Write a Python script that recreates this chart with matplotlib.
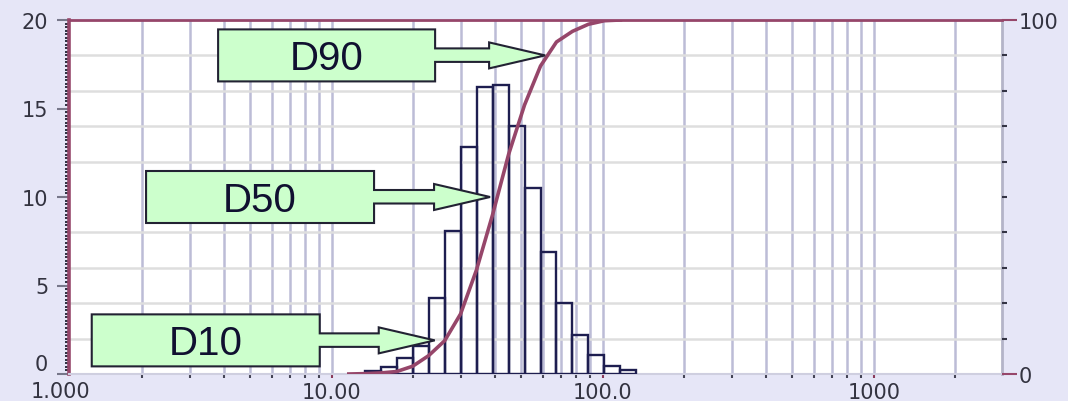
import numpy as np
import matplotlib
matplotlib.use("Agg")
import matplotlib.pyplot as plt
from matplotlib.patches import Polygon
from matplotlib.ticker import LogLocator, MultipleLocator, NullFormatter, FixedLocator

# particle size bin edges (um) and frequency (%) per bin
bin_edges = [13.246, 15.172, 17.377, 19.904, 22.797, 26.111, 29.907, 34.255,
             39.234, 44.938, 51.471, 58.953, 67.523, 77.339, 88.583, 101.46,
             116.21, 133.103]
freq = [0.19, 0.4, 0.9, 1.6, 4.3, 8.1, 12.8, 16.2, 16.3, 14.0, 10.5, 6.9,
        4.0, 2.2, 1.1, 0.47, 0.2]

# cumulative undersize curve (%)
cum_size = [11.565, 13.246, 15.172, 17.377, 19.904, 22.797, 26.111, 29.907,
            34.255, 39.234, 44.938, 51.471, 58.953, 67.523, 77.339, 88.583,
            101.46, 116.21]
cum_pct = [0.0, 0.1, 0.3, 0.7, 2.2, 5.2, 9.4, 17.0, 29.5, 45.0, 62.0, 76.0,
           87.0, 93.8, 96.8, 98.8, 99.8, 100.0]

# callouts: label, size the arrow points at, cumulative level
d_labels = ["D10", "D50", "D90"]
d_sizes = [24.0, 38.4, 61.3]
d_levels = [9.5, 50.0, 90.0]

x_ticks = [10, 100, 1000, 3000]
x_ticklabels = ["10.00", "100.0", "1000", "3000"]

bg = "#e6e6f7"
maroon = "#96466a"
navy = "#1e1e50"
label_col = "#333340"
tick_fs = 15

fig = plt.figure(figsize=(10.68, 4.02), dpi=100, facecolor=bg)
ax = fig.add_axes([69 / 1068, 1 - 375 / 402, (1001.7 - 69) / 1068, (375 - 21) / 402])
ax.set_facecolor("white")
ax.set_xscale("log")
ax.set_xlim(1.073, 2967)
ax.set_ylim(0, 20)

# grid
ax.set_axisbelow(True)
ax.xaxis.set_major_locator(FixedLocator(x_ticks))
ax.set_xticklabels(x_ticklabels)
ax.xaxis.set_minor_locator(LogLocator(base=10, subs=range(2, 10)))
ax.xaxis.set_minor_formatter(NullFormatter())
ax.grid(True, axis="x", which="both", color="#bcbcd6", linewidth=1.8)
ax.set_yticks([0, 5, 10, 15, 20])
ax.set_yticks(np.arange(2, 20, 2), minor=True)
ax.yaxis.grid(True, which="minor", color="#dedede", linewidth=1.8)
ax.yaxis.grid(False, which="major")

ax.tick_params(axis="y", which="major", length=9, width=1.5, color="#77778a",
               pad=6, labelsize=tick_fs, labelcolor=label_col)
ax.tick_params(axis="y", which="minor", length=0)
ax.tick_params(axis="x", which="major", length=3, width=1.5, color="#8a3a5a",
               pad=2.5, labelsize=tick_fs, labelcolor=label_col)
ax.tick_params(axis="x", which="minor", length=3, width=1.5, color="#444455")
# the "0" on the left sits a little above the bottom edge, "1.000" below it
ax.yaxis.get_major_ticks()[0].label1.set_verticalalignment("bottom")
ax.text(1.0, -0.047, "1.000", transform=ax.get_xaxis_transform(), ha="center",
        va="center", fontsize=tick_fs, color=label_col, clip_on=False)

# dense ruler ticks along the left spine
ruler = ax.secondary_yaxis("left")
ruler.yaxis.set_major_locator(FixedLocator([]))
ruler.yaxis.set_minor_locator(MultipleLocator(0.2))
ruler.tick_params(which="minor", length=3, width=1.2, color="#111122")
ruler.spines["left"].set_visible(False)

for side, col, lw in [("left", maroon, 2.6), ("top", maroon, 2.0),
                      ("right", "#b4b4c8", 2.0), ("bottom", "#cfcfe0", 1.5)]:
    ax.spines[side].set_color(col)
    ax.spines[side].set_linewidth(lw)

# histogram
widths = np.diff(bin_edges)
ax.bar(bin_edges[:-1], freq, width=widths, align="edge", fill=False,
       edgecolor=navy, linewidth=1.7, zorder=3)

# cumulative curve on right axis
ax2 = ax.twinx()
ax2.set_ylim(0, 100)
ax2.plot(cum_size, cum_pct, color=maroon, linewidth=2.6, zorder=4)
ax2.yaxis.set_major_locator(FixedLocator([0, 100]))
ax2.yaxis.set_minor_locator(FixedLocator(np.arange(10, 100, 10)))
ax2.tick_params(axis="y", which="major", length=11, width=1.5, color=maroon,
                pad=1, labelsize=tick_fs, labelcolor=label_col)
ax2.tick_params(axis="y", which="minor", length=3.5, width=1.5, color="#333344")
for s in ax2.spines.values():
    s.set_visible(False)

# block-arrow callouts, offsets in pixels from the arrow tip (y down)
box_left = [-343, -344, -327]
box_right = [-115, -116, -110]
to_fig = fig.transFigure.inverted()
for lab, size, lev, bl, br in zip(d_labels, d_sizes, d_levels, box_left, box_right):
    tx, ty = ax2.transData.transform((size, lev))
    hs = -56
    offs = [(bl, -26), (br, -26), (br, -7), (hs, -7), (hs, -13), (0, 0),
            (hs, 13), (hs, 6.5), (br, 6.5), (br, 26), (bl, 26)]
    verts = [to_fig.transform((tx + dx, ty - dy)) for dx, dy in offs]
    fig.add_artist(Polygon(verts, closed=True, transform=fig.transFigure,
                           facecolor="#ccffcc", edgecolor="#222233",
                           linewidth=1.5, zorder=10))
    cx, cy = to_fig.transform((tx + (bl + br) / 2, ty - 3))
    fig.text(cx, cy, lab, ha="center", va="center", fontsize=29,
             family="Liberation Sans", color="#101030", zorder=11)

fig.savefig("out.png", dpi=100, facecolor=bg)
